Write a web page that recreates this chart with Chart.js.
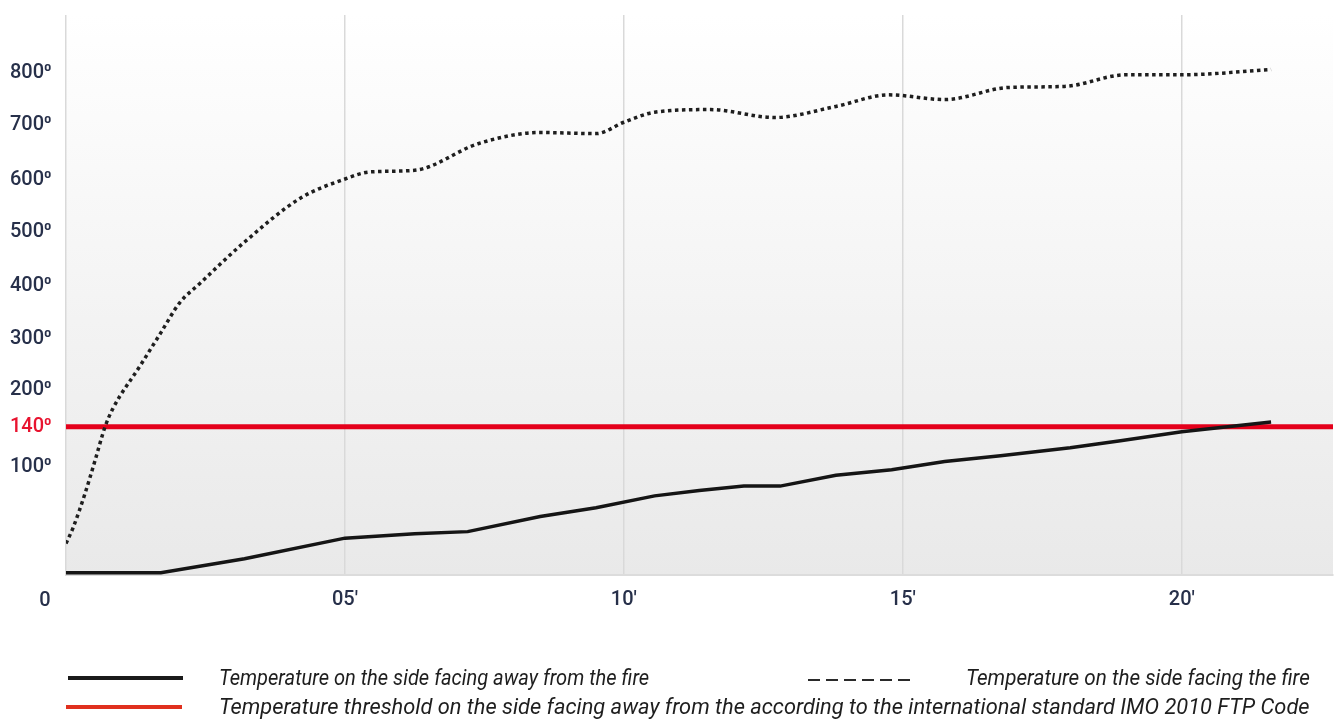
<!DOCTYPE html>
<html>
<head>
<meta charset="utf-8">
<script src="https://cdn.jsdelivr.net/npm/chart.js@4.4.1/dist/chart.umd.min.js"></script>
<style>
  html, body { margin: 0; padding: 0; background: #fff; }
  #wrap { position: relative; width: 1338px; height: 720px; overflow: hidden; }
  canvas { position: absolute; left: 0; top: 0; }
  .leg-line { position: absolute; height: 4px; }
  .leg-text { position: absolute; font-family: Roboto, "Noto Sans", sans-serif; font-style: italic;
              font-size: 22px; color: #1e1e1e; white-space: nowrap; line-height: 24px;
              transform-origin: 0 50%; }
  .dashes { position: absolute; height: 2px;
            background: repeating-linear-gradient(90deg, #2a2a2a 0 12px, transparent 12px 18px); }
</style>
</head>
<body>
<div id="wrap">
  <canvas id="grafico" width="1338" height="720"></canvas>

  <div class="leg-line" style="left:68px; top:676px; width:115px; background:#1a1a1a;"></div>
  <div class="leg-text" data-w="430" style="left:219px; top:666px;">Temperature on the side facing away from the fire</div>
  <div class="dashes" style="left:808px; top:679px; width:102px;"></div>
  <div class="leg-text" data-w="344" style="left:966px; top:666px;">Temperature on the side facing the fire</div>

  <div class="leg-line" style="left:66px; top:705px; width:116px; background:#e0301e;"></div>
  <div class="leg-text" data-w="1091" style="left:219px; top:695px;">Temperature threshold on the side facing away from the according to the international standard IMO 2010 FTP Code</div>
</div>

<script>
// datos (minutos / grados)
const tiempoLadoFrio = [0, 1.7, 3.2, 5.0, 6.25, 7.2, 8.5, 9.5, 10.55, 11.35, 12.15, 12.8, 13.8, 14.8, 15.75, 16.75, 18.0, 18.9, 20.0, 21.6];
const tempLadoFrio   = [2, 2, 15, 34, 38, 40, 54, 62, 73, 78, 82, 82, 92, 97, 105, 111, 119, 126, 135, 148];

const tiempoLadoFuego = [0, 0.13, 0.34, 0.52, 0.7, 0.84, 1.33, 1.68, 2.04, 2.4, 3.2, 4.2, 5.0, 5.45, 6.25, 7.4, 8.5, 9.5, 10.0, 10.55, 11.55, 12.7, 13.8, 14.75, 15.75, 16.9, 17.9, 19.0, 20.0, 21.6];
const tempLadoFuego   = [29, 44, 75, 106, 140, 170, 248, 308, 368, 404, 481, 565, 602, 615, 618, 667, 687, 685, 706, 725, 730, 715, 736, 758, 749, 772, 774, 796, 796, 806];

const umbral = 140;

const xTicks = [0, 5, 10, 15, 20];
const xTickLabels = ["", "05'", "10'", "15'", "20'"];
const yTicks = [100, 140, 200, 300, 400, 500, 600, 700, 800];
const xMax = 22.71;

// the vertical axis of the original is stretched below 200
const yKnotVal = [0, 100, 140, 200, 300, 400, 500, 600, 700, 800, 909];
const yKnotPos = [0, 109, 149, 185.5, 237.5, 291, 345, 397, 452, 505, 563];

function interp(v, from, to) {
  if (v <= from[0]) return to[0];
  for (let i = 1; i < from.length; i++) {
    if (v <= from[i]) {
      const f = (v - from[i - 1]) / (from[i] - from[i - 1]);
      return to[i - 1] + f * (to[i] - to[i - 1]);
    }
  }
  const n = from.length - 1;
  return to[n] + (v - from[n]) * (to[n] - to[n - 1]) / (from[n] - from[n - 1]);
}

class EscalaTramos extends Chart.LinearScale {
  getPixelForValue(value) {
    if (value === null || value === undefined || isNaN(value)) return NaN;
    const top = interp(this.max, yKnotVal, yKnotPos);
    return this.getPixelForDecimal(interp(value, yKnotVal, yKnotPos) / top);
  }
  getValueForPixel(pixel) {
    const top = interp(this.max, yKnotVal, yKnotPos);
    return interp(this.getDecimalForPixel(pixel) * top, yKnotPos, yKnotVal);
  }
}
EscalaTramos.id = "tramos";
EscalaTramos.defaults = Chart.LinearScale.defaults;
Chart.register(EscalaTramos);

const puntos = (xs, ys) => xs.map((x, i) => ({ x: x, y: ys[i] }));

const fondo = {
  id: "fondo",
  beforeDraw(chart) {
    const { ctx, chartArea: a } = chart;
    const g = ctx.createLinearGradient(0, a.top, 0, a.bottom);
    g.addColorStop(0, "#ffffff");
    g.addColorStop(1, "#e9e9e9");
    ctx.save();
    ctx.fillStyle = g;
    ctx.fillRect(a.left, a.top, a.right - a.left, a.bottom - a.top);
    ctx.restore();
  },
  afterDraw(chart) {
    // the "0" label of the original sits left of the axis
    const { ctx } = chart;
    const x = chart.scales.x.getPixelForValue(0) - 21;
    ctx.save();
    ctx.font = "500 20px Roboto";
    ctx.fillStyle = "#27304a";
    ctx.textAlign = "center";
    ctx.textBaseline = "middle";
    ctx.fillText("0", x, 601);
    ctx.restore();
  }
};

const ctx = document.getElementById("grafico").getContext("2d");
const chart = new Chart(ctx, {
  type: "line",
  data: {
    datasets: [
      {
        label: "Temperature on the side facing away from the fire",
        data: puntos(tiempoLadoFrio, tempLadoFrio),
        borderColor: "#151515",
        borderWidth: 3.5,
        pointRadius: 0,
        order: 1
      },
      {
        label: "Temperature on the side facing the fire",
        data: puntos(tiempoLadoFuego, tempLadoFuego),
        borderColor: "#1e1e1e",
        borderWidth: 3.5,
        borderDash: [3.5, 3.5],
        cubicInterpolationMode: "monotone",
        pointRadius: 0,
        order: 2
      },
      {
        label: "Temperature threshold IMO 2010 FTP Code",
        data: [{ x: 0, y: umbral }, { x: xMax, y: umbral }],
        borderColor: "#e4001b",
        borderWidth: 5,
        pointRadius: 0,
        order: 3
      }
    ]
  },
  options: {
    responsive: false,
    animation: false,
    layout: { padding: { left: 10, top: 12, right: 5, bottom: 100 } },
    plugins: {
      legend: { display: false },
      tooltip: { enabled: false }
    },
    scales: {
      x: {
        type: "linear",
        min: 0,
        max: xMax,
        afterBuildTicks: (s) => { s.ticks = xTicks.map(v => ({ value: v })); },
        afterFit: (s) => { s.height = 45; },
        grid: { color: "#d9d9d9", lineWidth: 1.5, drawTicks: false },
        border: { display: true, color: "#dcdcdc", width: 2 },
        ticks: {
          autoSkip: false,
          maxRotation: 0,
          padding: 13,
          color: "#27304a",
          font: { family: "Roboto", size: 20, weight: "500" },
          callback: (v, i) => xTickLabels[i]
        }
      },
      y: {
        type: "tramos",
        min: 0,
        max: 909,
        afterBuildTicks: (s) => { s.ticks = yTicks.map(v => ({ value: v })); },
        afterFit: (s) => { s.width = 56; },
        grid: { display: false },
        border: { display: false },
        ticks: {
          autoSkip: false,
          crossAlign: "far",
          color: (c) => c.tick && c.tick.value === umbral ? "#e8132f" : "#27304a",
          font: { family: "Roboto", size: 20, weight: "500" },
          callback: (v) => v + "\u2070"
        }
      }
    }
  },
  plugins: [fondo]
});

document.querySelectorAll(".leg-text").forEach(el => {
  const w = parseFloat(el.dataset.w);
  el.style.transform = "scaleX(" + (w / el.offsetWidth) + ")";
});
</script>
</body>
</html>
